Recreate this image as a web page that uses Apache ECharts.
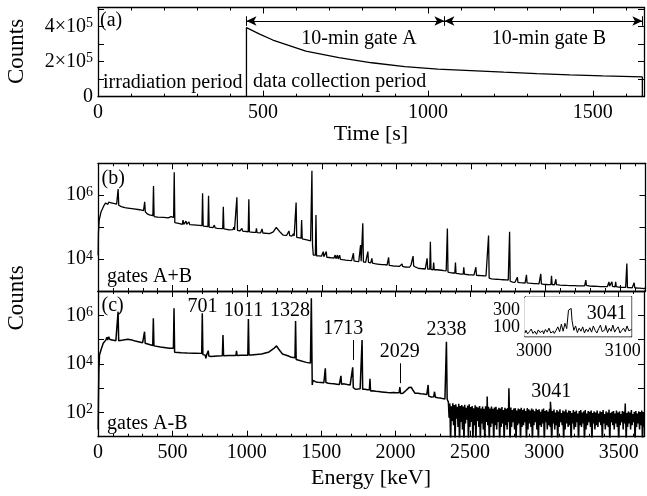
<!DOCTYPE html>
<html><head><meta charset="utf-8">
<script src="https://cdn.jsdelivr.net/npm/echarts@6/dist/echarts.min.js"></script>
<style>html,body{margin:0;padding:0;background:#fff}#c{width:647px;height:496px}</style>
</head><body><div id="c"></div>
<script>
// ---------------- DATA ----------------
// (a) counting rate vs time
const timeS   = [0, 450, 450, 490, 530, 630, 730, 830, 930, 1030, 1130, 1230, 1330, 1430, 1530, 1650, 1650];
const countsT = [0, 0, 3.95e5, 3.58e5, 3.24e5, 2.61e5, 2.23e5, 1.94e5, 1.72e5, 1.58e5, 1.49e5, 1.40e5, 1.32e5, 1.25e5, 1.19e5, 1.13e5, 0];
const timeTicks = [0, 500, 1000, 1500];

// (b) gates A+B spectrum  [keV, counts]
const specAB = [[1,13250],[3,66500],[8,167000],[20,297000],[40,474000],[50,570000],[55,501000],[60,590000],[66,517000],[72,606000],[80,538000],[88,580000],[96,517000],[105,554000],[115,507000],[125,528000],[131,496000],[135,1560000],[139,485000],[148,517000],[156,441000],[165,419000],[180,408000],[200,397000],[240,374000],[280,351000],[305,327000],[309,321000],[313,621000],[317,303000],[330,260000],[345,241000],[368,231000],[372,1940000],[376,215000],[400,205000],[440,201000],[470,195000],[490,215000],[495,241000],[500,201000],[507,201000],[511,5240000],[515,138000],[540,131000],[565,123000],[570,167000],[575,123000],[590,153000],[595,123000],[610,146000],[615,120000],[660,116000],[697,112000],[701,1160000],[705,108000],[737,104000],[741,964000],[745,100000],[770,96000],[780,116000],[785,94400],[800,91900],[836,89500],[840,436000],[844,87800],[880,82000],[905,83600],[910,100000],[915,82000],[927,81100],[931,863000],[935,79400],[950,76000],[965,91900],[970,75200],[1007,71800],[1011,745000],[1015,70800],[1040,69100],[1058,68200],[1062,91100],[1066,67300],[1090,66500],[1100,87800],[1105,65600],[1150,62900],[1175,70800],[1195,97600],[1205,91900],[1225,66500],[1240,56500],[1265,55600],[1280,76000],[1285,54700],[1300,52800],[1310,62000],[1315,52800],[1324,50900],[1328,595000],[1332,48000],[1345,46100],[1361,45200],[1365,167000],[1369,43200],[1400,40200],[1425,37100],[1430,37100],[1434,5860000],
[1438,27600],[1443,13400],[1450,12450],[1457,13250],[1461,241000],[1465,12600],[1472,11900],[1480,12600],[1490,11650],[1498,12300],[1505,11500],[1510,17100],[1514,11800],[1520,11100],[1526,11900],[1530,17100],[1534,11400],[1542,10700],[1550,11200],[1558,10400],[1566,10900],[1574,10300],[1582,10800],[1586,10400],[1590,13400],[1595,10300],[1600,10700],[1605,13400],[1610,10100],[1615,10500],[1620,13250],[1625,9820],[1632,10400],[1640,9540],[1650,10100],[1660,9250],[1670,9820],[1680,9100],[1690,9540],[1700,8960],[1708,9250],[1712,15200],[1716,8810],[1724,9250],[1732,8520],[1740,8960],[1748,8370],[1756,8810],[1760,27600],[1764,8520],[1770,8660],[1775,131500],[1779,8220],[1786,8660],[1794,7920],[1800,8370],[1805,7920],[1809,17100],[1813,7920],[1820,8220],[1828,7620],[1836,10500],[1840,7470],[1848,7770],[1856,7160],[1864,7620],[1872,7000],[1880,7470],[1888,6840],[1896,7310],[1904,6680],[1912,7160],[1920,6680],[1930,7000],[1938,6530],[1944,6840],[1948,11400],[1952,6370],[1960,6680],[1968,6210],[1976,6530],[1984,6050],[1992,6370],[2000,6050],[2010,6290],[2020,5890],[2030,6210],[2038,7000],[2042,5890],[2050,6050],[2058,5640],[2066,5970],[2074,5560],[2082,5890],[2090,5640],[2098,6530],[2104,6050],[2108,6210],[2112,12450],[2116,6050],[2122,6370],[2130,5560],[2138,5480],[2146,5150],[2154,5400],[2162,5060],[2170,5310],[2178,4980],[2186,5230],[2194,4890],[2202,5150],[2206,10500],[2210,4890],[2218,5060],[2224,4810],[2228,35100],[2232,4720],[2240,4890],[2246,4550],[2250,7770],[2254,4630],[2262,4370],[2270,4630],[2278,4290],[2286,4550],[2294,4200],[2302,4460],[2310,4110],[2318,4370],[2326,4020],[2334,4290],[2338,4110],[2342,91100],[2346,3930],[2354,4110],[2362,3750],[2370,4020],[2378,3660],[2386,3930],[2392,3660],[2396,7770],[2400,3570],[2408,3840],[2416,3480],[2424,3750],[2432,3380],[2440,3660],[2448,3380],[2452,5560],[2456,3380],[2464,3570],[2472,3290],[2480,3480],[2488,3190],[2496,3440],[2504,3190],[2512,3380],[2520,3140],[2529,3330],[2533,5560],[2537,3100],[2545,3290],[2553,3060],[2561,3250],[2569,3020],[2577,3190],[2585,3000],[2593,3160],[2601,2990],[2609,3140],[2614,3000],[2618,54700],[2622,2510],[2630,2610],[2638,2410],[2646,2550],[2654,2370],[2662,2510],[2670,2330],[2678,2470],[2686,2310],[2694,2450],[2702,2270],[2710,2410],[2718,2250],[2726,2390],[2734,2230],[2742,2370],[2750,2210],[2755,2310],[2759,71800],[2763,2020],[2771,2080],[2779,1890],[2787,2020],[2795,1870],[2803,2000],[2807,1890],[2811,2710],[2815,1870],[2823,1970],[2831,1820],[2839,1950],[2847,1800],[2855,1930],[2863,1780],[2868,1890],[2872,3190],[2876,1800],[2884,1930],[2892,1760],[2900,1890],[2908,1740],[2916,1870],[2924,1710],[2932,1850],[2940,1690],[2948,1820],[2956,1670],[2964,1800],[2968,3440],[2972,1670],[2980,1780],[2988,1620],[2996,1760],[3004,1600],[3012,1740],[3020,1580],[3028,1710],[3036,1580],[3040,3020],[3044,1600],[3052,1710],[3060,1560],[3065,1670],[3069,2330],[3073,1580],[3085,1670],[3097,1530],[3109,1650],[3121,1510],[3133,1620],[3145,1490],[3157,1610],[3169,1480],[3181,1600],[3193,1470],[3205,1590],[3217,1450],[3229,1580],[3241,1440],[3253,1570],[3262,1440],[3266,1580],[3270,2210],[3274,1490],[3286,1560],[3298,1420],[3310,1550],[3322,1410],[3334,1530],[3346,1400],[3358,1520],[3370,1380],[3382,1510],[3394,1370],[3406,1500],[3414,1370],[3421,1490],[3425,1930],[3429,1420],[3437,1470],[3441,1370],[3445,1930],[3449,1400],[3457,1470],[3466,1350],[3470,1930],[3474,1370],[3482,1450],[3490,1330],[3498,1440],[3506,1310],[3514,1430],[3522,1300],[3530,1420],[3537,1300],[3541,1370],[3545,7310],[3549,1280],[3557,1400],[3565,1270],[3573,1370],[3581,1260],[3590,1340],[3594,1800],[3598,1260],[3606,1340],[3614,1240],[3622,1330],[3630,1230],[3638,1310],[3646,1210],[3654,1300],[3662,1190],[3670,1260]];

// (c) gates A-B spectrum below 2350 keV  [keV, counts]
const specAmB = [[1,20],[3,320],[6,5600],[10,23000],[20,37000],[35,71000],[52,95000],[60,125000],[65,95000],[72,130000],[80,100000],[90,89000],[120,89000],[131,90000],[135,1410000],[139,90000],[170,95000],[200,102000],[230,95000],[250,87000],[300,74000],[309,73000],[313,210000],[317,70000],[330,66000],[368,57000],[372,760000],[376,55000],[420,49000],[480,44000],[507,44000],[511,1950000],[515,30000],[520,29000],[560,28500],[600,28000],[650,27500],[697,27000],[701,1200000],[705,24000],[720,23000],[725,17000],[730,23000],[737,22000],[741,35000],[745,21000],[760,20000],[800,21000],[836,21500],[840,155000],[844,21500],[880,22000],[927,22000],[931,34000],[935,22000],[960,22500],[1007,22500],[1011,710000],[1015,23000],[1030,23000],[1100,25500],[1150,31000],[1180,42000],[1200,55000],[1215,40000],[1240,25500],[1280,21000],[1300,18500],[1324,18000],[1328,580000],[1332,15000],[1345,13500],[1400,11500],[1428,10700],[1434,5000000],
[1440,1350],[1445,2100],[1452,1900],[1458,2300],[1465,1800],[1472,2100],[1480,1750],[1490,1950],[1500,1700],[1510,1900],[1518,1650],[1524,1850],[1528,6600],[1532,1700],[1540,1900],[1548,1600],[1556,1800],[1565,1550],[1575,1750],[1585,1500],[1595,1700],[1605,1450],[1615,1600],[1622,1400],[1629,1550],[1633,3200],[1637,1450],[1645,1350],[1655,1500],[1665,1250],[1675,1400],[1685,1200],[1695,1350],[1703,1150],[1708,1300],[1712,7200],[1716,1050],[1722,1000],[1730,900],[1738,1050],[1746,920],[1754,1050],[1762,950],[1770,1050],[1775,95000],[1779,900],[1786,820],[1794,900],[1802,780],[1810,860],[1818,760],[1824,850],[1828,2400],[1832,760],[1840,700],[1848,780],[1856,680],[1866,740],[1876,640],[1886,720],[1896,620],[1906,700],[1916,600],[1926,680],[1936,590],[1946,660],[1956,580],[1966,650],[1976,570],[1986,660],[1996,580],[2006,640],[2016,570],[2024,650],[2029,1100],[2034,600],[2042,680],[2050,620],[2060,720],[2070,800],[2080,950],[2090,1050],[2098,1000],[2106,1080],[2114,880],[2122,760],[2130,620],[2140,560],[2150,620],[2160,520],[2170,590],[2180,500],[2190,570],[2200,480],[2210,540],[2215,470],[2219,1350],[2223,470],[2232,520],[2240,430],[2248,500],[2256,440],[2262,710],[2268,420],[2276,480],[2284,400],[2292,460],[2300,390],[2308,440],[2316,370],[2324,430],[2332,360],[2338,420],[2342,81000],[2347,350]];

// (c) noisy part above 2350 keV: 10-keV bins, maximum and minimum inside each bin
const noiseStartKeV = 2355, noiseBinKeV = 10;
const noiseHigh = [270,230,180,240,200,215,170,225,185,200, 175,205,155,190,215,165,185,150,195,170, 160,185,145,175,140,180,155,170,145,175, 140,160,170,130,155,145,165,125,155,140, 150,135,160,125,145,150,120,145,135,155, 125,145,115,150,135,120,145,130,110,140, 125,135,105,130,145,115,125,110,140,120, 115,130,100,125,110,135,95,120,110,130, 100,120,115,95,125,105,120,90,115,125, 100,110,125,90,115,105,120,95,110,100, 120,90,110,105,125,85,110,100,130,95, 105,115,90,120,100,110,85,115,105,120, 95,110,100,125,85,105,115,90,110,100,120,95];
const noiseLow  = [60,5,45,30,5,55,25,5,40,20, 5,35,50,5,25,40,5,30,5,45, 25,5,35,20,5,40,30,5,25,35, 5,30,20,40,5,25,35,5,30,20, 35,5,25,40,20,5,30,35,5,25, 30,40,5,20,35,25,5,30,40,20, 5,30,25,35,5,40,20,30,25,5, 35,20,30,5,25,40,30,5,20,35, 25,30,5,35,20,25,40,5,30,25, 35,5,20,30,40,25,5,35,20,30, 25,40,30,5,35,20,30,25,5,40, 30,20,35,25,5,30,40,20,35,5, 25,35,20,30,40,5,25,35,20,30,5,25];
const noisePeaks = [[2612,40],[2616,450],[2620,40],[2758,40],[2762,980],[2766,40],[3037,40],[3041,275],[3045,40],[3540,30],[3544,235],[3548,30]];

// inset: 2-keV bins from 2990 keV (linear counts)
const insetStartKeV = 2990, insetBinKeV = 2;
const insetCounts = [40,70,30,55,85,35,60,25,75,45, 65,30,80,50,95,40,60,35,70,110, 55,140,60,150,90,300,320,180,70,120, 45,95,60,110,40,85,55,100,50,120, 70,40,90,130,55,75,125,45,95,60, 130,50,85,110,40,70,95,55,120,65,80];

const energyTicks = [0, 500, 1000, 1500, 2000, 2500, 3000, 3500];
const peakNames = ['701','1011','1328','1713','2029','2338','3041'];

// ---------------- CHART ----------------
const FONT = '"Liberation Serif","Times New Roman",serif';
const BLACK = '#000';

const specAmBFull = specAmB.slice();
noiseHigh.forEach((v, i) => {
  specAmBFull.push([noiseStartKeV + i * noiseBinKeV, v]);
  specAmBFull.push([noiseStartKeV + i * noiseBinKeV + noiseBinKeV / 2, noiseLow[i]]);
});
noisePeaks.forEach(p => specAmBFull.push(p));
specAmBFull.sort((a, b) => a[0] - b[0]);
const insetData = insetCounts.map((c, i) => [insetStartKeV + i * insetBinKeV, c]);

function xAxis(grid, pos, min, max, interval, labels, fs, extra) {
  return Object.assign({
    type: 'value', gridIndex: grid, position: pos, min, max, interval,
    axisLine: { show: true, onZero: false, lineStyle: { color: BLACK, width: 1.3 } },
    axisTick: { show: true, inside: true, length: 6, lineStyle: { color: BLACK, width: 1 } },
    minorTick: { show: true, splitNumber: 5, length: 3, lineStyle: { color: BLACK, width: 1 } },
    splitLine: { show: false }, minorSplitLine: { show: false },
    axisLabel: { show: !!labels, margin: 6, fontSize: fs || 20, fontFamily: FONT, color: BLACK,
      formatter: v => (labels && labels.indexOf(v) >= 0) ? String(v) : '' }
  }, extra || {});
}
function yAxis(grid, pos, type, min, max, interval, fmt, fs, extra) {
  const a = {
    type, gridIndex: grid, position: pos, min, max,
    axisLine: { show: true, onZero: false, lineStyle: { color: BLACK, width: 1.3 } },
    axisTick: { show: true, inside: true, length: 6, lineStyle: { color: BLACK, width: 1 } },
    splitLine: { show: false },
    axisLabel: { show: !!fmt, margin: 5, fontSize: fs || 20, fontFamily: FONT, color: BLACK,
      formatter: fmt || (() => ''),
      rich: { s: { fontSize: 14, fontFamily: FONT, color: BLACK, verticalAlign: 'top', lineHeight: 12 } } }
  };
  if (interval) a.interval = interval;
  if (type === 'log') a.logBase = 10;
  return Object.assign(a, extra || {});
}
function logFmt(show) {
  return v => {
    const l = Math.log10(v), n = Math.round(l);
    if (Math.abs(l - n) > 1e-6 || show.indexOf(n) < 0) return '';
    return '10{s|' + n + '}';
  };
}
const linFmtA = v => v === 0 ? '0' : (v === 2e5 ? '2×10{s|5}' : (v === 4e5 ? '4×10{s|5}' : ''));

const txt = (t, x, y, size, align, rot) => ({
  type: 'text', x, y, rotation: rot || 0, silent: true,
  style: { text: t, fontSize: size, fontFamily: FONT, fill: BLACK, align: align || 'left', verticalAlign: 'middle' }
});

const arrowY = 4.33e5;

const option = {
  animation: false,
  backgroundColor: '#fff',
  grid: [
    { left: 98, right: 1.5, top: 7.5, height: 89.2 },
    { left: 98, right: 1.5, top: 163.3, height: 127.7 },
    { left: 98, right: 1.5, top: 291, height: 145.7 },
    { left: 525, top: 297, width: 106.5, height: 39.5, show: true, backgroundColor: '#fff', borderWidth: 0, z: 5 }
  ],
  xAxis: [
    xAxis(0, 'bottom', 0, 1655, 500, timeTicks, 20, { name: 'Time [s]', nameLocation: 'middle', nameGap: 19,
      nameTextStyle: { fontSize: 22, fontFamily: FONT, color: BLACK, verticalAlign: 'top' } }),
    xAxis(0, 'top', 0, 1655, 500, null),
    xAxis(1, 'bottom', 0, 3670, 500, null),
    xAxis(1, 'top', 0, 3670, 500, null),
    xAxis(2, 'bottom', 0, 3670, 500, energyTicks, 20, { name: 'Energy [keV]', nameLocation: 'middle', nameGap: 31,
      nameTextStyle: { fontSize: 22, fontFamily: FONT, color: BLACK, verticalAlign: 'top' } }),
    xAxis(2, 'top', 0, 3670, 500, null),
    xAxis(3, 'bottom', 2990, 3110, 10, [3000, 3100], 18, { minorTick: { show: false },
      axisTick: { show: true, inside: true, length: 3, lineStyle: { color: BLACK, width: 1 } } }),
    xAxis(3, 'top', 2990, 3110, 10, null, 18, { minorTick: { show: false },
      axisTick: { show: true, inside: true, length: 3, lineStyle: { color: BLACK, width: 1 } } })
  ],
  yAxis: [
    yAxis(0, 'left', 'value', 0, 5.1e5, 1e5, linFmtA),
    yAxis(0, 'right', 'value', 0, 5.1e5, 1e5, null),
    yAxis(1, 'left', 'log', 1e3, 1e7, null, logFmt([4, 6]), 20, { splitNumber: 4 }),
    yAxis(1, 'right', 'log', 1e3, 1e7, null, null, 20, { splitNumber: 4 }),
    yAxis(2, 'left', 'log', 10, 1e7, null, logFmt([2, 4, 6]), 20, { splitNumber: 6 }),
    yAxis(2, 'right', 'log', 10, 1e7, null, null, 20, { splitNumber: 6 }),
    yAxis(3, 'left', 'value', 0, 450, 100, v => (v === 100 || v === 300) ? String(v) : '', 18,
      { axisTick: { show: true, inside: true, length: 3, lineStyle: { color: BLACK } } }),
    yAxis(3, 'right', 'value', 0, 450, 100, null, 18,
      { axisTick: { show: true, inside: true, length: 3, lineStyle: { color: BLACK } } })
  ],
  series: [
    {
      type: 'line', xAxisIndex: 0, yAxisIndex: 0, showSymbol: false, silent: true,
      data: timeS.map((t, i) => [t, countsT[i]]),
      lineStyle: { color: BLACK, width: 1.3 },
      markLine: {
        silent: true, symbolSize: [7, 10], label: { show: false },
        lineStyle: { color: BLACK, width: 1, type: 'solid' },
        data: [
          [{ coord: [450, arrowY], symbol: 'arrow' }, { coord: [1050, arrowY], symbol: 'arrow' }],
          [{ coord: [1050, arrowY], symbol: 'arrow' }, { coord: [1650, arrowY], symbol: 'arrow' }],
          [{ coord: [450, 4.6e5], symbol: 'none' }, { coord: [450, 4.05e5], symbol: 'none' }],
          [{ coord: [1050, 4.6e5], symbol: 'none' }, { coord: [1050, 4.05e5], symbol: 'none' }],
          [{ coord: [1650, 4.6e5], symbol: 'none' }, { coord: [1650, 4.05e5], symbol: 'none' }]
        ]
      }
    },
    {
      type: 'line', xAxisIndex: 2, yAxisIndex: 2, showSymbol: false, silent: true,
      data: specAB, lineStyle: { color: BLACK, width: 1.3 }
    },
    {
      type: 'line', xAxisIndex: 4, yAxisIndex: 4, showSymbol: false, silent: true,
      data: specAmBFull, lineStyle: { color: BLACK, width: 1.5 },
      markLine: {
        silent: true, symbol: 'none', label: { show: false },
        lineStyle: { color: BLACK, width: 1, type: 'solid' },
        data: [
          [{ coord: [1713, 95500] }, { coord: [1713, 14500] }],
          [{ coord: [2029, 10500] }, { coord: [2029, 1600] }]
        ]
      },
      markPoint: {
        silent: true, symbol: 'circle', symbolSize: 1, itemStyle: { color: 'rgba(0,0,0,0)' },
        label: { show: true, position: 'inside', fontSize: 20, fontFamily: FONT, color: BLACK, formatter: p => p.name },
        data: [
          { name: peakNames[0], coord: [702, 2.24e6] },
          { name: peakNames[1], coord: [978, 1.51e6] },
          { name: peakNames[2], coord: [1291, 1.51e6] },
          { name: peakNames[3], coord: [1649, 2.9e5] },
          { name: peakNames[4], coord: [2029, 3.2e4] },
          { name: peakNames[5], coord: [2342, 2.45e5] },
          { name: peakNames[6], coord: [3046, 708] }
        ]
      }
    },
    {
      type: 'line', xAxisIndex: 6, yAxisIndex: 6, showSymbol: false, silent: true, step: 'middle', z: 6,
      data: insetData, lineStyle: { color: BLACK, width: 1 },
      markPoint: {
        silent: true, symbol: 'circle', symbolSize: 1, itemStyle: { color: 'rgba(0,0,0,0)' },
        label: { show: true, position: 'inside', fontSize: 20, fontFamily: FONT, color: BLACK, formatter: p => p.name },
        data: [{ name: peakNames[6], coord: [3082, 260] }]
      }
    }
  ],
  graphic: [
    txt('Counts', 16.5, 51.5, 23, 'center', Math.PI / 2),
    txt('Counts', 16.5, 298, 23, 'center', Math.PI / 2),
    txt('(a)', 100, 21, 20),
    txt('(b)', 101.5, 179, 20),
    txt('(c)', 101.5, 305.5, 20),
    txt('gates A+B', 107, 276.5, 20),
    txt('gates A-B', 107, 424, 20),
    txt('irradiation period', 103, 82.5, 20),
    txt('data collection period', 253, 81.5, 20),
    txt('10-min gate A', 359, 39, 20, 'center'),
    txt('10-min gate B', 549, 39, 20, 'center')
  ]
};

const chart = echarts.init(document.getElementById('c'), null, { renderer: 'canvas' });
chart.setOption(option);
</script></body></html>
